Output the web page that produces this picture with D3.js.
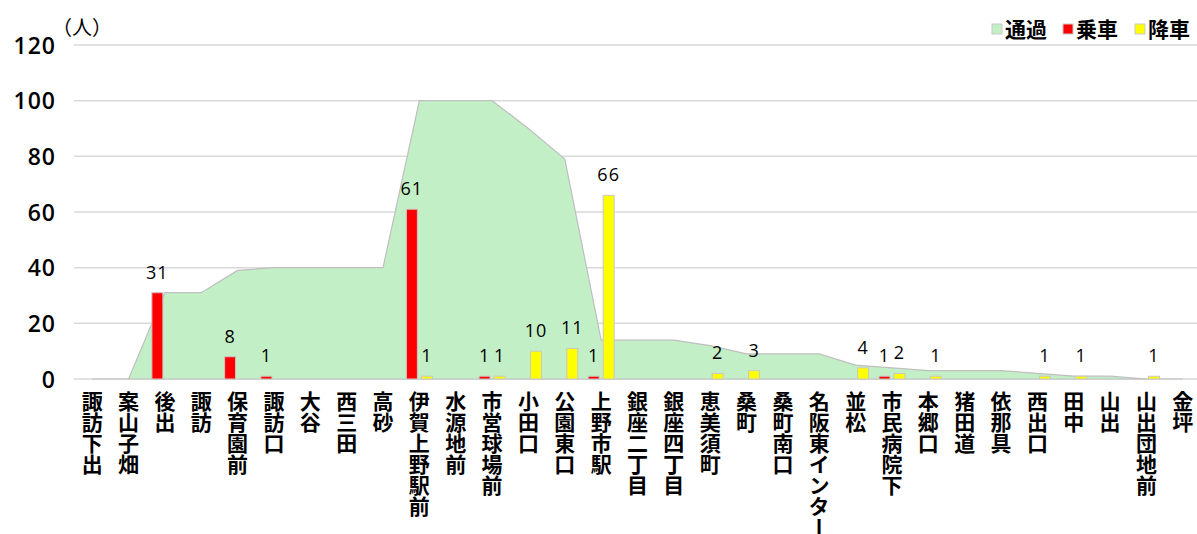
<!DOCTYPE html>
<html>
<head>
<meta charset="utf-8">
<script src="https://cdn.jsdelivr.net/npm/d3@7"></script>
<style>
  html, body { margin: 0; padding: 0; background: #fff; }
  svg { display: block; font-family: "Noto Sans CJK JP", "Noto Sans", sans-serif; }
</style>
</head>
<body>
<svg id="chart" width="1197" height="534"></svg>
<script>
// Bus stops along the route
const stops = [
  "諏訪下出", "案山子畑", "後出", "諏訪", "保育園前", "諏訪口", "大谷", "西三田", "高砂",
  "伊賀上野駅前", "水源地前", "市営球場前", "小田口", "公園東口", "上野市駅", "銀座二丁目",
  "銀座四丁目", "恵美須町", "桑町", "桑町南口", "名阪東インター", "並松", "市民病院下",
  "本郷口", "猪田道", "依那具", "西出口", "田中", "山出", "山出団地前", "金坪"
];
// Passengers riding through each stop
const passing = [0, 0, 31, 31, 39, 40, 40, 40, 40, 100, 100, 100, 90, 79, 14, 14,
  14, 12, 9, 9, 9, 5, 4, 3, 3, 3, 2, 1, 1, 0, 0];
// Passengers boarding at each stop
const boarding = [0, 0, 31, 0, 8, 1, 0, 0, 0, 61, 0, 1, 0, 0, 1, 0,
  0, 0, 0, 0, 0, 0, 1, 0, 0, 0, 0, 0, 0, 0, 0];
// Passengers alighting at each stop
const alighting = [0, 0, 0, 0, 0, 0, 0, 0, 0, 1, 0, 1, 10, 11, 66, 0,
  0, 2, 3, 0, 0, 4, 2, 1, 0, 0, 1, 1, 0, 1, 0];
const yTicks = [0, 20, 40, 60, 80, 100, 120];
const legendItems = [
  { name: "通過", color: "#c3efc6" },
  { name: "乗車", color: "#ff0000" },
  { name: "降車", color: "#ffff00" }
];

const numFont = "\"Open Sans\", \"Noto Sans\", sans-serif";
const svg = d3.select("#chart");
const W = 1197;

const x = d3.scaleBand().domain(stops).range([74, 1201]).padding(0);
const y = d3.scaleLinear().domain([0, 120]).range([379, 45]);
const cx = s => x(s) + x.bandwidth() / 2;

// Horizontal gridlines
svg.append("g").selectAll("line").data(yTicks).join("line")
  .attr("x1", 74).attr("x2", W)
  .attr("y1", d => y(d)).attr("y2", d => y(d))
  .attr("stroke", "#d9d9d9").attr("stroke-width", 1.5);

// Through-riders area
const area = d3.area()
  .x((d, i) => cx(stops[i]))
  .y0(y(0))
  .y1(d => y(d));
svg.append("path")
  .datum(passing)
  .attr("d", area)
  .attr("fill", "#c3efc6")
  .attr("stroke", "#bfbfbf")
  .attr("stroke-width", 1.2);

// Boarding / alighting bars
const barW = 11, gap = 2;
const series = [
  { values: boarding, color: "#ff0000", off: -gap - barW },
  { values: alighting, color: "#ffff00", off: gap }
];
const barData = [];
series.forEach(s => {
  s.values.forEach((v, i) => {
    if (v > 0) barData.push({ stop: stops[i], v, color: s.color, off: s.off });
  });
});
svg.append("g").selectAll("rect").data(barData).join("rect")
  .attr("x", d => cx(d.stop) + d.off)
  .attr("y", d => y(d.v))
  .attr("width", barW)
  .attr("height", d => y(0) - y(d.v))
  .attr("fill", d => d.color)
  .attr("stroke", "#c8c8c8")
  .attr("stroke-width", 1);

// Value labels
svg.append("g").selectAll("text").data(barData).join("text")
  .attr("x", d => cx(d.stop) + d.off + barW / 2)
  .attr("y", d => y(d.v) - 14)
  .attr("text-anchor", "middle")
  .attr("font-family", numFont)
  .attr("font-size", 18)
  .attr("letter-spacing", 1)
  .attr("fill", "#000")
  .text(d => d.v);

// Y axis
const yAxis = svg.append("g")
  .attr("transform", "translate(56,0)")
  .call(d3.axisLeft(y).tickValues(yTicks).tickSize(0).tickPadding(0));
yAxis.select(".domain").remove();
yAxis.selectAll("text")
  .attr("font-size", 23)
  .attr("font-family", numFont)
  .attr("font-weight", 600)
  .attr("letter-spacing", 1)
  .attr("fill", "#000")
  .attr("dy", "0.36em");

// Unit label
svg.append("text")
  .attr("x", 52).attr("y", 35)
  .attr("font-size", 20)
  .attr("fill", "#000")
  .text("（人）");

// X axis with vertical stop names
const xAxis = svg.append("g")
  .call(d3.axisBottom(x).tickSize(0));
xAxis.select(".domain").remove();
xAxis.selectAll(".tick").attr("transform", d => `translate(${cx(d)},0)`);
xAxis.selectAll("text")
  .attr("y", 391)
  .attr("dy", 0)
  .attr("text-anchor", "start")
  .attr("font-size", 21)
  .attr("font-weight", "bold")
  .attr("font-family", "\"Noto Sans CJK JP\", sans-serif")
  .attr("fill", "#000")
  .style("writing-mode", "vertical-rl")
  .style("text-orientation", "upright");

// Legend
const legendX = [992, 1063, 1135];
const lg = svg.append("g").selectAll("g").data(legendItems).join("g")
  .attr("transform", (d, i) => `translate(${legendX[i]},24)`);
lg.append("rect")
  .attr("width", 10).attr("height", 10)
  .attr("fill", d => d.color)
  .attr("stroke", "#c8c8c8").attr("stroke-width", 1);
lg.append("text")
  .attr("x", 13).attr("y", 5)
  .attr("dy", "0.36em")
  .attr("font-size", 21)
  .attr("font-weight", "bold")
  .attr("fill", "#000")
  .text(d => d.name);
</script>
</body>
</html>
